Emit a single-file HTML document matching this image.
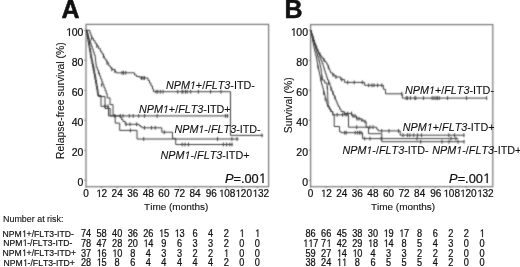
<!DOCTYPE html>
<html><head><meta charset="utf-8"><style>
html,body{margin:0;padding:0;background:#fff;width:520px;height:267px;overflow:hidden;position:relative}
svg{will-change:transform}
text{stroke:#111;stroke-width:0.12px;font-kerning:none}
.lab{stroke-width:0.1px}
.num{stroke-width:0.25px}
.tk{stroke-width:0.22px}
.rl{stroke-width:0.2px}
</style></head><body>
<svg width="520" height="267" viewBox="0 0 520 267" style="position:absolute;left:0;top:0" font-family='"Liberation Sans", sans-serif' fill="#111">
<defs><filter id="soft" x="0" y="0" width="520" height="267" filterUnits="userSpaceOnUse" color-interpolation-filters="sRGB"><feConvolveMatrix order="3" kernelMatrix="1 2 1 2 10 2 1 2 1" preserveAlpha="false"/></filter></defs>
<g filter="url(#soft)"><rect x="86" y="24.4" width="182.6" height="162.3" fill="none" stroke="#767676" stroke-width="1.2"/>
<path d="M84 180.3H86M84 150.3H86M84 120.3H86M84 90.3H86M84 60.3H86M84 30.3H86M86 186.7V188.3M101.58 186.7V188.3M117.16 186.7V188.3M132.74 186.7V188.3M148.32 186.7V188.3M163.9 186.7V188.3M179.48 186.7V188.3M195.06 186.7V188.3M210.64 186.7V188.3M226.22 186.7V188.3M241.8 186.7V188.3M257.38 186.7V188.3" stroke="#767676" stroke-width="0.8" fill="none"/>
<path d="M86 30.3H89V30.4H89.93V33H90.87V35.6H91.8V38.2H93.47V40.8H95.13V43.4H96.8V46H98.6V48.7H100.4V51.4H101.9V53.8H103.4V56.2H104.3V58.1H105.2V60H106.95V62.9H108.7V65.8H110.25V67.6H111.8V69.4H114.8V71.2H116V72.8H134.5V75H136.5V76.5H140V78H148V80.5H149.5V83H151V86H152.5V89H153.5V91.7H230.5V135.4H263V135.4M91.6 36.3V40.1M96.8 44.1V47.9M103.4 54.3V58.1M107 61.1V64.9M111.8 67.5V71.3M114.8 69.1V72.9M122 70.9V74.7M123.5 70.9V74.7M125.7 70.9V74.7M141.5 76.1V79.9M143 76.1V79.9M144.5 76.1V79.9M156 89.8V93.6M157.8 89.8V93.6M160.4 89.8V93.6M163 89.8V93.6M177.7 89.8V93.6M182 89.8V93.6M182.9 89.8V93.6M185.5 89.8V93.6M187.2 89.8V93.6M190.7 89.8V93.6M198.4 89.8V93.6M210.6 89.8V93.6M221 89.8V93.6M262 133.5V137.3" fill="none" stroke="#3a3a3a" stroke-width="1.0"/>
<path d="M86 30.3H86.5V33H87V36H87.5V39H88V42H88.54V45.2H89.08V48.4H89.62V51.6H90.16V54.8H90.7V58H91.3V61H91.9V64H92.5V67H93.12V70.25H93.75V73.5H94.38V76.75H95V80H95.54V83.1H96.08V86.2H96.62V89.3H97.16V92.4H97.7V95.5H101V106.3H108.5V115.9H228.5V115.9M87.8 33.3V37.1M89.6 40.5V44.3M93.8 66.9V70.7M95 74.7V78.5M105.1 104.4V108.2M108 104.4V108.2M114.7 114V117.8M120.3 114V117.8M123 114V117.8M129.3 114V117.8M133.2 114V117.8M138.7 114V117.8M144.6 114V117.8M157.2 114V117.8M225.5 114V117.8M227.5 114V117.8" fill="none" stroke="#3a3a3a" stroke-width="1.0"/>
<path d="M86.9 30.3H87.4V33H87.9V36H88.4V39H88.9V42H89.44V45.2H89.98V48.4H90.52V51.6H91.06V54.8H91.6V58H92.2V61H92.8V64H93.4V67H94.03V70.25H94.65V73.5H95.28V76.75H95.9V80H96.44V83.1H96.98V86.2H97.52V89.3H98.06V92.4H98.4V96.5H105V108.5H110.2V115.9H120.3V117.5H121.5V119.5H123V121.5H125.3V124.3H139V125.5H140.5V126.8H142.2V127.8H161.8V132.2H172.5V138.4H175.7V144.5H232.7V144.5M126 122.4V126.2M130 122.4V126.2M136.6 122.4V126.2M144.5 125.9V129.7M151.5 125.9V129.7M155.3 125.9V129.7M164.3 130.3V134.1M182.2 142.6V146.4M185 142.6V146.4M188.5 142.6V146.4M223.4 142.6V146.4M226.6 142.6V146.4M229.8 142.6V146.4M232 142.6V146.4" fill="none" stroke="#3a3a3a" stroke-width="1.0"/>
<path d="M86 30.3H86.75V32.65H87.5V35H88.35V37.5H89.2V40H90.2V43H91.2V46H92.2V49H93.2V52H94.2V55H95.2V58H95.53V61H95.87V64H96.2V67H97.31V69.97H98.42V72.93H99.53V75.9H100.64V78.87H101.76V81.83H102.87V84.8H103.98V87.77H105.09V90.73H106.2V93.7H107.2V97.9H110V104.6H113V115.2H115.2V123.1H119.7V130.4H137V139H238.6V139M98.6 70.5V74.3M101.6 83.1V86.9M130.4 128.5V132.3M143.7 137.1V140.9M217.5 137.1V140.9M231.9 137.1V140.9M237 137.1V140.9" fill="none" stroke="#3a3a3a" stroke-width="1.0"/>
<rect x="310.6" y="24.6" width="182.2" height="162.1" fill="none" stroke="#767676" stroke-width="1.2"/>
<path d="M308.6 180.3H310.6M308.6 150.3H310.6M308.6 120.3H310.6M308.6 90.3H310.6M308.6 60.3H310.6M308.6 30.3H310.6M310.6 186.7V188.3M326.18 186.7V188.3M341.76 186.7V188.3M357.34 186.7V188.3M372.92 186.7V188.3M388.5 186.7V188.3M404.08 186.7V188.3M419.66 186.7V188.3M435.24 186.7V188.3M450.82 186.7V188.3M466.4 186.7V188.3M481.98 186.7V188.3" stroke="#767676" stroke-width="0.8" fill="none"/>
<path d="M310.6 30.5H311.05V32.25H311.5V34H312V36H312.5V38H313.17V40H313.83V42H314.5V44H315.5V46.5H316.5V49H317.5V51H318.5V53H319.45V54.5H320.4V56H321.95V58H323.5V60H324.75V61.5H326V63H327.15V65.15H328.3V67.3H329.03V69.17H329.77V71.03H330.5V72.9H332.75V74.95H335V77H340.7V79.6H344.6V82.4H364.6V85.3H383.4V89.3H385.5V93.8H402.3V98.1H486.7V98.1M313 36.1V39.9M316 44.6V48.4M320 52.6V56.4M324 58.1V61.9M328.3 65.4V69.2M333 73.05V76.85M336 75.1V78.9M341.8 77.7V81.5M347.7 80.5V84.3M354.2 80.5V84.3M362.3 80.5V84.3M368.7 83.4V87.2M371.9 83.4V87.2M374 83.4V87.2M377.6 83.4V87.2M381.8 83.4V87.2M401.8 91.9V95.7M406.2 96.2V100M407.6 96.2V100M410.5 96.2V100M414.8 96.2V100M415.8 96.2V100M423.5 96.2V100M432.1 96.2V100M434 96.2V100M436 96.2V100M437.4 96.2V100M439.3 96.2V100M447.5 96.2V100M466.5 96.2V100M486.7 96.2V100" fill="none" stroke="#3a3a3a" stroke-width="1.0"/>
<path d="M310.6 30.5H311.05V32.75H311.5V35H312V38H312.5V41H313V43.5H313.5V46H314V48.5H314.6V51H315.2V53.5H315.8V56H316.4V59H317V62H317.47V64.5H317.93V67H318.4V69.5H318.97V72.1H319.53V74.7H320.1V77.3H320.57V79.53H321.03V81.77H321.5V84H322.15V86.25H322.8V88.5H323.45V90.75H324.1V93H324.67V95.23H325.23V97.47H325.8V99.7H326.37V101.97H326.93V104.23H327.5V106.5H329V109H330.5V111.5H332.7V114.8H348.5V127.2H368.5V133.7H381.8V141.7H464.3V141.7M318 65.1V68.9M321 77.63V81.43M323.6 91.1V94.9M325.2 97.1V100.9M337.2 112.9V116.7M342.5 112.9V116.7M346.2 112.9V116.7M356.7 125.3V129.1M420.7 139.8V143.6M442 139.8V143.6M449 139.8V143.6M458 139.8V143.6M464 139.8V143.6" fill="none" stroke="#3a3a3a" stroke-width="1.0"/>
<path d="M310.6 30.5H311.3V33.25H312V36H312.75V39H313.5V42H314.4V45H315.3V48H316.03V50.67H316.77V53.33H317.5V56H318.17V58.33H318.83V60.67H319.5V63H320V65.33H320.5V67.67H321V70H321.3V72.5H321.6V75H321.9V77.5H322.2V80H324.6V83H327V86H327.25V88.35H327.5V90.7H327.57V93.03H327.65V95.35H327.73V97.67H327.8V100H327.97V102.17H328.13V104.33H328.3V106.5H329.65V109H331V111.5H332.8V114.8H334.2V126.5H339.5V131.7H341V132.7H362.5V138.6H458.2V138.6M322 75.6V79.4M327.3 86.1V89.9M344.7 130.8V134.6M346.2 130.8V134.6M355.2 130.8V134.6M357.5 130.8V134.6M359.5 130.8V134.6M361 130.8V134.6M364.7 136.7V140.5M370 136.7V140.5M381.2 136.7V140.5M417 136.7V140.5M451 136.7V140.5M455.9 136.7V140.5" fill="none" stroke="#3a3a3a" stroke-width="1.0"/>
<path d="M310.6 30.5H311.3V32.75H312V35H312.8V37.5H313.6V40H314.55V43H315.5V46H316.75V49H318V52H319V55H320V58H321V60.67H322V63.33H323V66H323.75V68.33H324.5V70.67H325.25V73H326V75.33H326.75V77.67H327.5V80H328.75V83H330V86H330.83V88.33H331.67V90.67H332.5V93H333.43V95.23H334.37V97.47H335.3V99.7H336.27V101.97H337.23V104.23H338.2V106.5H339.6V109H341V111.5H344V113.5H352V116H356.5V118.7H361V120.2H364V121.7H366.2V127.2H376.7V129.2H378.2V130.9H400.2V135.2H464.5V135.2M328.6 81.1V84.9M331 87.1V90.9M333 91.1V94.9M335 95.57V99.37M344.7 111.6V115.4M347.7 111.6V115.4M351.5 111.6V115.4M353 114.1V117.9M355 114.1V117.9M357 116.8V120.6M359 116.8V120.6M362 118.3V122.1M365 119.8V123.6M370 125.3V129.1M373 125.3V129.1M381.7 129V132.8M389 129V132.8M398.5 129V132.8M403 133.3V137.1M407.5 133.3V137.1M409.8 133.3V137.1M413.7 133.3V137.1M417.6 133.3V137.1M421.5 133.3V137.1M448.8 133.3V137.1M454.5 133.3V137.1M463.9 133.3V137.1" fill="none" stroke="#3a3a3a" stroke-width="1.0"/></g>
<text class="tk" transform="translate(83.4 186.4)" x="-5.84" font-size="10.5">0</text>
<text class="tk" transform="translate(83.4 156.4)" x="-11.68" font-size="10.5">20</text>
<text class="tk" transform="translate(83.4 126.4)" x="-11.68" font-size="10.5">40</text>
<text class="tk" transform="translate(83.4 96.4)" x="-11.68" font-size="10.5">60</text>
<text class="tk" transform="translate(83.4 66.4)" x="-11.68" font-size="10.5">80</text>
<text class="tk" transform="translate(83.4 36.4)" x="-17.52" font-size="10.5"> 00</text>
<path d="M600 0V1237L282 1010V1180L615 1409H781V0Z" transform="translate(65.88 36) scale(0.00513 -0.00549)" fill="#111" stroke="#111" stroke-width="0.15" vector-effect="non-scaling-stroke"/>
<text class="tk" transform="translate(86 197.2)" x="-2.78" font-size="10">0</text>
<text class="tk" transform="translate(101.58 197.2)" x="-5.56" font-size="10"> 2</text>
<path d="M600 0V1237L282 1010V1180L615 1409H781V0Z" transform="translate(96.02 197) scale(0.00488 -0.00522)" fill="#111" stroke="#111" stroke-width="0.15" vector-effect="non-scaling-stroke"/>
<text class="tk" transform="translate(117.16 197.2)" x="-5.56" font-size="10">24</text>
<text class="tk" transform="translate(132.74 197.2)" x="-5.56" font-size="10">36</text>
<text class="tk" transform="translate(148.32 197.2)" x="-5.56" font-size="10">48</text>
<text class="tk" transform="translate(163.9 197.2)" x="-5.56" font-size="10">60</text>
<text class="tk" transform="translate(179.48 197.2)" x="-5.56" font-size="10">72</text>
<text class="tk" transform="translate(195.06 197.2)" x="-5.56" font-size="10">84</text>
<text class="tk" transform="translate(211.24 197.2)" x="-5.56" font-size="10">96</text>
<text class="tk" transform="translate(227.02 197.2)" x="-8.34" font-size="10"> 08</text>
<path d="M600 0V1237L282 1010V1180L615 1409H781V0Z" transform="translate(218.68 197) scale(0.00488 -0.00522)" fill="#111" stroke="#111" stroke-width="0.15" vector-effect="non-scaling-stroke"/>
<text class="tk" transform="translate(243.6 197.2)" x="-8.34" font-size="10"> 20</text>
<path d="M600 0V1237L282 1010V1180L615 1409H781V0Z" transform="translate(235.26 197) scale(0.00488 -0.00522)" fill="#111" stroke="#111" stroke-width="0.15" vector-effect="non-scaling-stroke"/>
<text class="tk" transform="translate(260.68 197.2)" x="-8.34" font-size="10"> 32</text>
<path d="M600 0V1237L282 1010V1180L615 1409H781V0Z" transform="translate(252.34 197) scale(0.00488 -0.00522)" fill="#111" stroke="#111" stroke-width="0.15" vector-effect="non-scaling-stroke"/>
<text x="61.4" y="18" font-size="25" text-anchor="start" font-weight="bold" style="stroke-width:0.5px">A</text>
<text class="lab" x="0" y="0" font-size="10.4" text-anchor="middle" transform="translate(64 100.6) rotate(-90)">Relapse-free survival (%)</text>
<text transform="translate(144.1 210.3) scale(1.04 1)" font-size="9.6">Time (months)</text>
<text class="tk" transform="translate(265.8 182.9)" x="-40.93" font-size="12.8"><tspan font-style="italic">P</tspan>=.00 </text>
<path d="M600 0V1237L282 1010V1180L615 1409H781V0Z" transform="translate(258.68 183) scale(0.00625 -0.00669)" fill="#111" stroke="#111" stroke-width="0.15" vector-effect="non-scaling-stroke"/>
<text class="lab" transform="translate(165.9 88.7) scale(1.07 1)" x="0" font-size="10.1"><tspan font-style="italic">NPM </tspan>+/<tspan font-style="italic">FLT3</tspan>-ITD-</text>
<path d="M412 0L650 1223L289 1000L324 1180L701 1409L867 1409L593 0Z" transform="translate(189.91 89) scale(0.00528 -0.00528)" fill="#111" stroke="#111" stroke-width="0.07" vector-effect="non-scaling-stroke"/>
<text class="lab" transform="translate(138.9 112.8) scale(1.07 1)" x="0" font-size="10.1"><tspan font-style="italic">NPM </tspan>+/<tspan font-style="italic">FLT3</tspan>-ITD+</text>
<path d="M412 0L650 1223L289 1000L324 1180L701 1409L867 1409L593 0Z" transform="translate(162.91 113) scale(0.00528 -0.00528)" fill="#111" stroke="#111" stroke-width="0.07" vector-effect="non-scaling-stroke"/>
<text class="lab" transform="translate(174.4 133.4) scale(1.07 1)" x="0" font-size="10.1"><tspan font-style="italic">NPM </tspan>-/<tspan font-style="italic">FLT3</tspan>-ITD-</text>
<path d="M412 0L650 1223L289 1000L324 1180L701 1409L867 1409L593 0Z" transform="translate(198.41 133) scale(0.00528 -0.00528)" fill="#111" stroke="#111" stroke-width="0.07" vector-effect="non-scaling-stroke"/>
<text class="lab" transform="translate(160.5 159) scale(1.07 1)" x="0" font-size="10.1"><tspan font-style="italic">NPM </tspan>-/<tspan font-style="italic">FLT3</tspan>-ITD+</text>
<path d="M412 0L650 1223L289 1000L324 1180L701 1409L867 1409L593 0Z" transform="translate(184.51 159) scale(0.00528 -0.00528)" fill="#111" stroke="#111" stroke-width="0.07" vector-effect="non-scaling-stroke"/>
<text class="tk" transform="translate(308 186.4)" x="-5.84" font-size="10.5">0</text>
<text class="tk" transform="translate(308 156.4)" x="-11.68" font-size="10.5">20</text>
<text class="tk" transform="translate(308 126.4)" x="-11.68" font-size="10.5">40</text>
<text class="tk" transform="translate(308 96.4)" x="-11.68" font-size="10.5">60</text>
<text class="tk" transform="translate(308 66.4)" x="-11.68" font-size="10.5">80</text>
<text class="tk" transform="translate(308 36.4)" x="-17.52" font-size="10.5"> 00</text>
<path d="M600 0V1237L282 1010V1180L615 1409H781V0Z" transform="translate(290.48 36) scale(0.00513 -0.00549)" fill="#111" stroke="#111" stroke-width="0.15" vector-effect="non-scaling-stroke"/>
<text class="tk" transform="translate(310.6 197.2)" x="-2.78" font-size="10">0</text>
<text class="tk" transform="translate(326.18 197.2)" x="-5.56" font-size="10"> 2</text>
<path d="M600 0V1237L282 1010V1180L615 1409H781V0Z" transform="translate(320.62 197) scale(0.00488 -0.00522)" fill="#111" stroke="#111" stroke-width="0.15" vector-effect="non-scaling-stroke"/>
<text class="tk" transform="translate(341.76 197.2)" x="-5.56" font-size="10">24</text>
<text class="tk" transform="translate(357.34 197.2)" x="-5.56" font-size="10">36</text>
<text class="tk" transform="translate(372.92 197.2)" x="-5.56" font-size="10">48</text>
<text class="tk" transform="translate(388.5 197.2)" x="-5.56" font-size="10">60</text>
<text class="tk" transform="translate(404.08 197.2)" x="-5.56" font-size="10">72</text>
<text class="tk" transform="translate(419.66 197.2)" x="-5.56" font-size="10">84</text>
<text class="tk" transform="translate(435.84 197.2)" x="-5.56" font-size="10">96</text>
<text class="tk" transform="translate(451.62 197.2)" x="-8.34" font-size="10"> 08</text>
<path d="M600 0V1237L282 1010V1180L615 1409H781V0Z" transform="translate(443.28 197) scale(0.00488 -0.00522)" fill="#111" stroke="#111" stroke-width="0.15" vector-effect="non-scaling-stroke"/>
<text class="tk" transform="translate(468.2 197.2)" x="-8.34" font-size="10"> 20</text>
<path d="M600 0V1237L282 1010V1180L615 1409H781V0Z" transform="translate(459.86 197) scale(0.00488 -0.00522)" fill="#111" stroke="#111" stroke-width="0.15" vector-effect="non-scaling-stroke"/>
<text class="tk" transform="translate(485.28 197.2)" x="-8.34" font-size="10"> 32</text>
<path d="M600 0V1237L282 1010V1180L615 1409H781V0Z" transform="translate(476.94 197) scale(0.00488 -0.00522)" fill="#111" stroke="#111" stroke-width="0.15" vector-effect="non-scaling-stroke"/>
<text x="284.6" y="18" font-size="25" text-anchor="start" font-weight="bold" style="stroke-width:0.5px">B</text>
<text class="lab" x="0" y="0" font-size="10.4" text-anchor="middle" transform="translate(291.8 105.3) rotate(-90)">Survival (%)</text>
<text transform="translate(370.9 210.3) scale(1.04 1)" font-size="9.6">Time (months)</text>
<text class="tk" transform="translate(490 182.9)" x="-40.93" font-size="12.8"><tspan font-style="italic">P</tspan>=.00 </text>
<path d="M600 0V1237L282 1010V1180L615 1409H781V0Z" transform="translate(482.88 183) scale(0.00625 -0.00669)" fill="#111" stroke="#111" stroke-width="0.15" vector-effect="non-scaling-stroke"/>
<text class="lab" transform="translate(405 94.3) scale(1.07 1)" x="0" font-size="10.1"><tspan font-style="italic">NPM </tspan>+/<tspan font-style="italic">FLT3</tspan>-ITD-</text>
<path d="M412 0L650 1223L289 1000L324 1180L701 1409L867 1409L593 0Z" transform="translate(429.01 94) scale(0.00528 -0.00528)" fill="#111" stroke="#111" stroke-width="0.07" vector-effect="non-scaling-stroke"/>
<text class="lab" transform="translate(402.8 131) scale(1.07 1)" x="0" font-size="10.1"><tspan font-style="italic">NPM </tspan>+/<tspan font-style="italic">FLT3</tspan>-ITD+</text>
<path d="M412 0L650 1223L289 1000L324 1180L701 1409L867 1409L593 0Z" transform="translate(426.81 131) scale(0.00528 -0.00528)" fill="#111" stroke="#111" stroke-width="0.07" vector-effect="non-scaling-stroke"/>
<text class="lab" transform="translate(342.4 153.9) scale(1.07 1)" x="0" font-size="10.1"><tspan font-style="italic">NPM </tspan>-/<tspan font-style="italic">FLT3</tspan>-ITD-</text>
<path d="M412 0L650 1223L289 1000L324 1180L701 1409L867 1409L593 0Z" transform="translate(366.41 154) scale(0.00528 -0.00528)" fill="#111" stroke="#111" stroke-width="0.07" vector-effect="non-scaling-stroke"/>
<text class="lab" transform="translate(432.3 153.9) scale(1.07 1)" x="0" font-size="10.1"><tspan font-style="italic">NPM </tspan>-/<tspan font-style="italic">FLT3</tspan>-ITD+</text>
<path d="M412 0L650 1223L289 1000L324 1180L701 1409L867 1409L593 0Z" transform="translate(456.31 154) scale(0.00528 -0.00528)" fill="#111" stroke="#111" stroke-width="0.07" vector-effect="non-scaling-stroke"/>
<text transform="translate(3 222.2) scale(0.94 1)" font-size="9.5" text-anchor="start">Number at risk:</text>
<text class="rl" transform="translate(2.6 236.6) scale(0.9 1)" x="0" font-size="9.6">NPM +/FLT3-ITD-</text>
<path d="M600 0V1237L282 1010V1180L615 1409H781V0Z" transform="translate(21.8 237) scale(0.00422 -0.00455)" fill="#111" stroke="#111" stroke-width="0.14" vector-effect="non-scaling-stroke"/>
<text class="num" transform="translate(86 237.4) scale(0.9 1)" x="-5.67" font-size="10.2">74</text>
<text class="num" transform="translate(310.6 237.4) scale(0.9 1)" x="-5.67" font-size="10.2">86</text>
<text class="num" transform="translate(101.58 237.4) scale(0.9 1)" x="-5.67" font-size="10.2">58</text>
<text class="num" transform="translate(326.18 237.4) scale(0.9 1)" x="-5.67" font-size="10.2">66</text>
<text class="num" transform="translate(117.16 237.4) scale(0.9 1)" x="-5.67" font-size="10.2">40</text>
<text class="num" transform="translate(341.76 237.4) scale(0.9 1)" x="-5.67" font-size="10.2">45</text>
<text class="num" transform="translate(132.74 237.4) scale(0.9 1)" x="-5.67" font-size="10.2">36</text>
<text class="num" transform="translate(357.34 237.4) scale(0.9 1)" x="-5.67" font-size="10.2">38</text>
<text class="num" transform="translate(148.32 237.4) scale(0.9 1)" x="-5.67" font-size="10.2">26</text>
<text class="num" transform="translate(372.92 237.4) scale(0.9 1)" x="-5.67" font-size="10.2">30</text>
<text class="num" transform="translate(163.9 237.4) scale(0.9 1)" x="-5.67" font-size="10.2"> 5</text>
<path d="M600 0V1237L282 1010V1180L615 1409H781V0Z" transform="translate(158.79 237) scale(0.00448 -0.00533)" fill="#111" stroke="#111" stroke-width="0.17" vector-effect="non-scaling-stroke"/>
<text class="num" transform="translate(388.5 237.4) scale(0.9 1)" x="-5.67" font-size="10.2"> 9</text>
<path d="M600 0V1237L282 1010V1180L615 1409H781V0Z" transform="translate(383.39 237) scale(0.00448 -0.00533)" fill="#111" stroke="#111" stroke-width="0.17" vector-effect="non-scaling-stroke"/>
<text class="num" transform="translate(179.48 237.4) scale(0.9 1)" x="-5.67" font-size="10.2"> 3</text>
<path d="M600 0V1237L282 1010V1180L615 1409H781V0Z" transform="translate(174.37 237) scale(0.00448 -0.00533)" fill="#111" stroke="#111" stroke-width="0.17" vector-effect="non-scaling-stroke"/>
<text class="num" transform="translate(404.08 237.4) scale(0.9 1)" x="-5.67" font-size="10.2"> 7</text>
<path d="M600 0V1237L282 1010V1180L615 1409H781V0Z" transform="translate(398.97 237) scale(0.00448 -0.00533)" fill="#111" stroke="#111" stroke-width="0.17" vector-effect="non-scaling-stroke"/>
<text class="num" transform="translate(195.06 237.4) scale(0.9 1)" x="-2.84" font-size="10.2">6</text>
<text class="num" transform="translate(419.66 237.4) scale(0.9 1)" x="-2.84" font-size="10.2">8</text>
<text class="num" transform="translate(210.64 237.4) scale(0.9 1)" x="-2.84" font-size="10.2">4</text>
<text class="num" transform="translate(435.24 237.4) scale(0.9 1)" x="-2.84" font-size="10.2">6</text>
<text class="num" transform="translate(226.22 237.4) scale(0.9 1)" x="-2.84" font-size="10.2">2</text>
<text class="num" transform="translate(450.82 237.4) scale(0.9 1)" x="-2.84" font-size="10.2">2</text>
<text class="num" transform="translate(241.8 237.4) scale(0.9 1)" x="-2.84" font-size="10.2"> </text>
<path d="M600 0V1237L282 1010V1180L615 1409H781V0Z" transform="translate(239.25 237) scale(0.00448 -0.00533)" fill="#111" stroke="#111" stroke-width="0.17" vector-effect="non-scaling-stroke"/>
<text class="num" transform="translate(466.4 237.4) scale(0.9 1)" x="-2.84" font-size="10.2">2</text>
<text class="num" transform="translate(257.38 237.4) scale(0.9 1)" x="-2.84" font-size="10.2"> </text>
<path d="M600 0V1237L282 1010V1180L615 1409H781V0Z" transform="translate(254.83 237) scale(0.00448 -0.00533)" fill="#111" stroke="#111" stroke-width="0.17" vector-effect="non-scaling-stroke"/>
<text class="num" transform="translate(481.98 237.4) scale(0.9 1)" x="-2.84" font-size="10.2"> </text>
<path d="M600 0V1237L282 1010V1180L615 1409H781V0Z" transform="translate(479.43 237) scale(0.00448 -0.00533)" fill="#111" stroke="#111" stroke-width="0.17" vector-effect="non-scaling-stroke"/>
<text class="rl" transform="translate(3.2 246.3) scale(0.9 1)" x="0" font-size="9.6">NPM -/FLT3-ITD-</text>
<path d="M600 0V1237L282 1010V1180L615 1409H781V0Z" transform="translate(22.4 246) scale(0.00422 -0.00455)" fill="#111" stroke="#111" stroke-width="0.14" vector-effect="non-scaling-stroke"/>
<text class="num" transform="translate(86 247.1) scale(0.9 1)" x="-5.67" font-size="10.2">78</text>
<text class="num" transform="translate(310.6 247.1) scale(0.9 1)" x="-8.51" font-size="10.2">  7</text>
<path d="M600 0V1237L282 1010V1180L615 1409H781V0Z" transform="translate(302.94 247) scale(0.00448 -0.00533)" fill="#111" stroke="#111" stroke-width="0.17" vector-effect="non-scaling-stroke"/>
<path d="M600 0V1237L282 1010V1180L615 1409H781V0Z" transform="translate(308.05 247) scale(0.00448 -0.00533)" fill="#111" stroke="#111" stroke-width="0.17" vector-effect="non-scaling-stroke"/>
<text class="num" transform="translate(101.58 247.1) scale(0.9 1)" x="-5.67" font-size="10.2">47</text>
<text class="num" transform="translate(326.18 247.1) scale(0.9 1)" x="-5.67" font-size="10.2">7 </text>
<path d="M600 0V1237L282 1010V1180L615 1409H781V0Z" transform="translate(326.18 247) scale(0.00448 -0.00533)" fill="#111" stroke="#111" stroke-width="0.17" vector-effect="non-scaling-stroke"/>
<text class="num" transform="translate(117.16 247.1) scale(0.9 1)" x="-5.67" font-size="10.2">28</text>
<text class="num" transform="translate(341.76 247.1) scale(0.9 1)" x="-5.67" font-size="10.2">42</text>
<text class="num" transform="translate(132.74 247.1) scale(0.9 1)" x="-5.67" font-size="10.2">20</text>
<text class="num" transform="translate(357.34 247.1) scale(0.9 1)" x="-5.67" font-size="10.2">29</text>
<text class="num" transform="translate(148.32 247.1) scale(0.9 1)" x="-5.67" font-size="10.2"> 4</text>
<path d="M600 0V1237L282 1010V1180L615 1409H781V0Z" transform="translate(143.21 247) scale(0.00448 -0.00533)" fill="#111" stroke="#111" stroke-width="0.17" vector-effect="non-scaling-stroke"/>
<text class="num" transform="translate(372.92 247.1) scale(0.9 1)" x="-5.67" font-size="10.2"> 8</text>
<path d="M600 0V1237L282 1010V1180L615 1409H781V0Z" transform="translate(367.81 247) scale(0.00448 -0.00533)" fill="#111" stroke="#111" stroke-width="0.17" vector-effect="non-scaling-stroke"/>
<text class="num" transform="translate(163.9 247.1) scale(0.9 1)" x="-2.84" font-size="10.2">9</text>
<text class="num" transform="translate(388.5 247.1) scale(0.9 1)" x="-5.67" font-size="10.2"> 4</text>
<path d="M600 0V1237L282 1010V1180L615 1409H781V0Z" transform="translate(383.39 247) scale(0.00448 -0.00533)" fill="#111" stroke="#111" stroke-width="0.17" vector-effect="non-scaling-stroke"/>
<text class="num" transform="translate(179.48 247.1) scale(0.9 1)" x="-2.84" font-size="10.2">6</text>
<text class="num" transform="translate(404.08 247.1) scale(0.9 1)" x="-2.84" font-size="10.2">8</text>
<text class="num" transform="translate(195.06 247.1) scale(0.9 1)" x="-2.84" font-size="10.2">3</text>
<text class="num" transform="translate(419.66 247.1) scale(0.9 1)" x="-2.84" font-size="10.2">5</text>
<text class="num" transform="translate(210.64 247.1) scale(0.9 1)" x="-2.84" font-size="10.2">3</text>
<text class="num" transform="translate(435.24 247.1) scale(0.9 1)" x="-2.84" font-size="10.2">4</text>
<text class="num" transform="translate(226.22 247.1) scale(0.9 1)" x="-2.84" font-size="10.2">2</text>
<text class="num" transform="translate(450.82 247.1) scale(0.9 1)" x="-2.84" font-size="10.2">3</text>
<text class="num" transform="translate(241.8 247.1) scale(0.9 1)" x="-2.84" font-size="10.2">0</text>
<text class="num" transform="translate(466.4 247.1) scale(0.9 1)" x="-2.84" font-size="10.2">0</text>
<text class="num" transform="translate(257.38 247.1) scale(0.9 1)" x="-2.84" font-size="10.2">0</text>
<text class="num" transform="translate(481.98 247.1) scale(0.9 1)" x="-2.84" font-size="10.2">0</text>
<text class="rl" transform="translate(2.6 256) scale(0.9 1)" x="0" font-size="9.6">NPM +/FLT3-ITD+</text>
<path d="M600 0V1237L282 1010V1180L615 1409H781V0Z" transform="translate(21.8 256) scale(0.00422 -0.00455)" fill="#111" stroke="#111" stroke-width="0.14" vector-effect="non-scaling-stroke"/>
<text class="num" transform="translate(86 256.8) scale(0.9 1)" x="-5.67" font-size="10.2">37</text>
<text class="num" transform="translate(310.6 256.8) scale(0.9 1)" x="-5.67" font-size="10.2">59</text>
<text class="num" transform="translate(101.58 256.8) scale(0.9 1)" x="-5.67" font-size="10.2"> 6</text>
<path d="M600 0V1237L282 1010V1180L615 1409H781V0Z" transform="translate(96.47 257) scale(0.00448 -0.00533)" fill="#111" stroke="#111" stroke-width="0.17" vector-effect="non-scaling-stroke"/>
<text class="num" transform="translate(326.18 256.8) scale(0.9 1)" x="-5.67" font-size="10.2">27</text>
<text class="num" transform="translate(117.16 256.8) scale(0.9 1)" x="-5.67" font-size="10.2"> 0</text>
<path d="M600 0V1237L282 1010V1180L615 1409H781V0Z" transform="translate(112.05 257) scale(0.00448 -0.00533)" fill="#111" stroke="#111" stroke-width="0.17" vector-effect="non-scaling-stroke"/>
<text class="num" transform="translate(341.76 256.8) scale(0.9 1)" x="-5.67" font-size="10.2"> 4</text>
<path d="M600 0V1237L282 1010V1180L615 1409H781V0Z" transform="translate(336.65 257) scale(0.00448 -0.00533)" fill="#111" stroke="#111" stroke-width="0.17" vector-effect="non-scaling-stroke"/>
<text class="num" transform="translate(132.74 256.8) scale(0.9 1)" x="-2.84" font-size="10.2">8</text>
<text class="num" transform="translate(357.34 256.8) scale(0.9 1)" x="-5.67" font-size="10.2"> 0</text>
<path d="M600 0V1237L282 1010V1180L615 1409H781V0Z" transform="translate(352.23 257) scale(0.00448 -0.00533)" fill="#111" stroke="#111" stroke-width="0.17" vector-effect="non-scaling-stroke"/>
<text class="num" transform="translate(148.32 256.8) scale(0.9 1)" x="-2.84" font-size="10.2">4</text>
<text class="num" transform="translate(372.92 256.8) scale(0.9 1)" x="-2.84" font-size="10.2">4</text>
<text class="num" transform="translate(163.9 256.8) scale(0.9 1)" x="-2.84" font-size="10.2">3</text>
<text class="num" transform="translate(388.5 256.8) scale(0.9 1)" x="-2.84" font-size="10.2">3</text>
<text class="num" transform="translate(179.48 256.8) scale(0.9 1)" x="-2.84" font-size="10.2">3</text>
<text class="num" transform="translate(404.08 256.8) scale(0.9 1)" x="-2.84" font-size="10.2">3</text>
<text class="num" transform="translate(195.06 256.8) scale(0.9 1)" x="-2.84" font-size="10.2">2</text>
<text class="num" transform="translate(419.66 256.8) scale(0.9 1)" x="-2.84" font-size="10.2">2</text>
<text class="num" transform="translate(210.64 256.8) scale(0.9 1)" x="-2.84" font-size="10.2">2</text>
<text class="num" transform="translate(435.24 256.8) scale(0.9 1)" x="-2.84" font-size="10.2">2</text>
<text class="num" transform="translate(226.22 256.8) scale(0.9 1)" x="-2.84" font-size="10.2"> </text>
<path d="M600 0V1237L282 1010V1180L615 1409H781V0Z" transform="translate(223.67 257) scale(0.00448 -0.00533)" fill="#111" stroke="#111" stroke-width="0.17" vector-effect="non-scaling-stroke"/>
<text class="num" transform="translate(450.82 256.8) scale(0.9 1)" x="-2.84" font-size="10.2">2</text>
<text class="num" transform="translate(241.8 256.8) scale(0.9 1)" x="-2.84" font-size="10.2">0</text>
<text class="num" transform="translate(466.4 256.8) scale(0.9 1)" x="-2.84" font-size="10.2">0</text>
<text class="num" transform="translate(257.38 256.8) scale(0.9 1)" x="-2.84" font-size="10.2">0</text>
<text class="num" transform="translate(481.98 256.8) scale(0.9 1)" x="-2.84" font-size="10.2">0</text>
<text class="rl" transform="translate(3.6 265.6) scale(0.9 1)" x="0" font-size="9.6">NPM -/FLT3-ITD+</text>
<path d="M600 0V1237L282 1010V1180L615 1409H781V0Z" transform="translate(22.8 266) scale(0.00422 -0.00455)" fill="#111" stroke="#111" stroke-width="0.14" vector-effect="non-scaling-stroke"/>
<text class="num" transform="translate(86 266.4) scale(0.9 1)" x="-5.67" font-size="10.2">28</text>
<text class="num" transform="translate(310.6 266.4) scale(0.9 1)" x="-5.67" font-size="10.2">38</text>
<text class="num" transform="translate(101.58 266.4) scale(0.9 1)" x="-5.67" font-size="10.2"> 5</text>
<path d="M600 0V1237L282 1010V1180L615 1409H781V0Z" transform="translate(96.47 266) scale(0.00448 -0.00533)" fill="#111" stroke="#111" stroke-width="0.17" vector-effect="non-scaling-stroke"/>
<text class="num" transform="translate(326.18 266.4) scale(0.9 1)" x="-5.67" font-size="10.2">24</text>
<text class="num" transform="translate(117.16 266.4) scale(0.9 1)" x="-2.84" font-size="10.2">8</text>
<text class="num" transform="translate(341.76 266.4) scale(0.9 1)" x="-5.67" font-size="10.2">  </text>
<path d="M600 0V1237L282 1010V1180L615 1409H781V0Z" transform="translate(336.65 266) scale(0.00448 -0.00533)" fill="#111" stroke="#111" stroke-width="0.17" vector-effect="non-scaling-stroke"/>
<path d="M600 0V1237L282 1010V1180L615 1409H781V0Z" transform="translate(341.76 266) scale(0.00448 -0.00533)" fill="#111" stroke="#111" stroke-width="0.17" vector-effect="non-scaling-stroke"/>
<text class="num" transform="translate(132.74 266.4) scale(0.9 1)" x="-2.84" font-size="10.2">6</text>
<text class="num" transform="translate(357.34 266.4) scale(0.9 1)" x="-2.84" font-size="10.2">8</text>
<text class="num" transform="translate(148.32 266.4) scale(0.9 1)" x="-2.84" font-size="10.2">4</text>
<text class="num" transform="translate(372.92 266.4) scale(0.9 1)" x="-2.84" font-size="10.2">6</text>
<text class="num" transform="translate(163.9 266.4) scale(0.9 1)" x="-2.84" font-size="10.2">4</text>
<text class="num" transform="translate(388.5 266.4) scale(0.9 1)" x="-2.84" font-size="10.2">5</text>
<text class="num" transform="translate(179.48 266.4) scale(0.9 1)" x="-2.84" font-size="10.2">4</text>
<text class="num" transform="translate(404.08 266.4) scale(0.9 1)" x="-2.84" font-size="10.2">5</text>
<text class="num" transform="translate(195.06 266.4) scale(0.9 1)" x="-2.84" font-size="10.2">4</text>
<text class="num" transform="translate(419.66 266.4) scale(0.9 1)" x="-2.84" font-size="10.2">5</text>
<text class="num" transform="translate(210.64 266.4) scale(0.9 1)" x="-2.84" font-size="10.2">4</text>
<text class="num" transform="translate(435.24 266.4) scale(0.9 1)" x="-2.84" font-size="10.2">4</text>
<text class="num" transform="translate(226.22 266.4) scale(0.9 1)" x="-2.84" font-size="10.2">2</text>
<text class="num" transform="translate(450.82 266.4) scale(0.9 1)" x="-2.84" font-size="10.2">2</text>
<text class="num" transform="translate(241.8 266.4) scale(0.9 1)" x="-2.84" font-size="10.2">0</text>
<text class="num" transform="translate(466.4 266.4) scale(0.9 1)" x="-2.84" font-size="10.2">0</text>
<text class="num" transform="translate(257.38 266.4) scale(0.9 1)" x="-2.84" font-size="10.2">0</text>
<text class="num" transform="translate(481.98 266.4) scale(0.9 1)" x="-2.84" font-size="10.2">0</text>
</svg>
</body></html>
